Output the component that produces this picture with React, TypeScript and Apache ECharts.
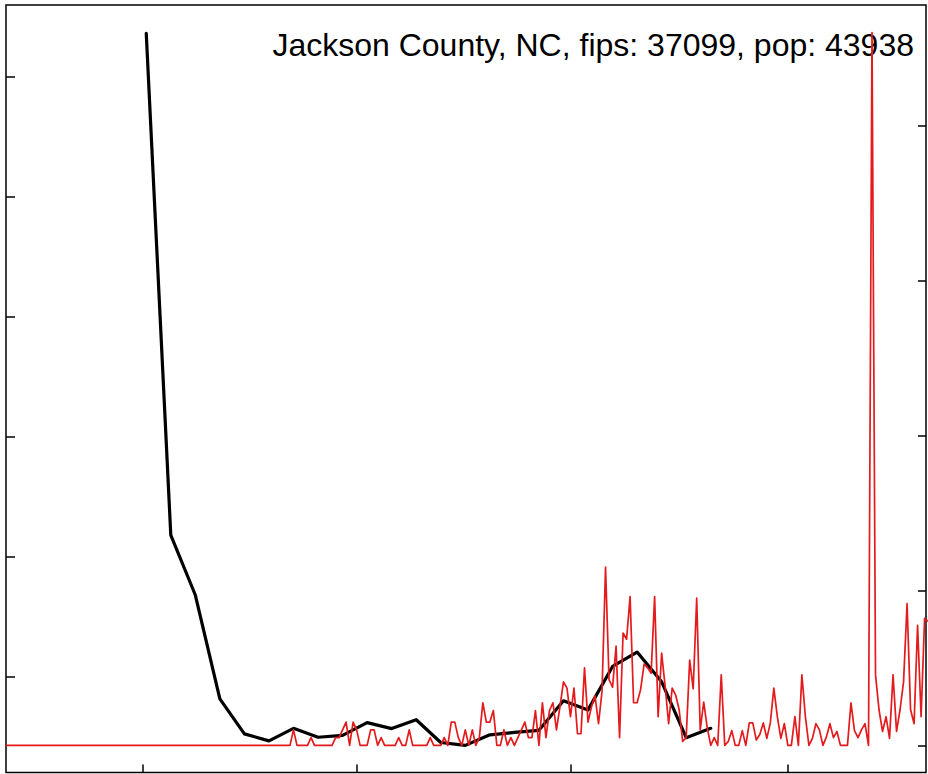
import React, { useEffect, useRef } from "react";
import * as echarts from "echarts";

const titleText = "Jackson County, NC, fips: 37099, pop: 43938";

// x in days since 2020-01-22; ticks at Mar 1, May 1, Jul 1, Sep 1
const xTickDays = [39, 100, 161, 223];
const xMaxDay = 262.4;
const leftTicks = [5, 10, 15, 20, 25, 30];
const rightTicks = [0, 20, 40, 60, 80];

// weekly series (left axis)
const blackDays = [40, 47, 54, 61, 68, 75, 82, 89, 96, 103, 110, 117, 124, 131, 138, 145, 152, 159, 166, 173, 180, 187, 194, 201];
const blackValues = [31.82, 10.9, 8.4, 4.07, 2.61, 2.32, 2.84, 2.47, 2.55, 3.08, 2.83, 3.2, 2.25, 2.13, 2.57, 2.67, 2.76, 3.99, 3.61, 5.42, 6.02, 4.78, 2.45, 2.84];

// daily series (right axis), day 0 = 2020-01-22
const redValues = [
  0, 0, 0, 0, 0, 0, 0, 0, 0, 0, 0, 0, 0, 0, 0, 0, 0, 0, 0, 0,
  0, 0, 0, 0, 0, 0, 0, 0, 0, 0, 0, 0, 0, 0, 0, 0, 0, 0, 0, 0,
  0, 0, 0, 0, 0, 0, 0, 0, 0, 0, 0, 0, 0, 0, 0, 0, 0, 0, 0, 0,
  0, 0, 0, 0, 0, 0, 0, 0, 0, 0, 0, 0, 0, 0, 0, 0, 0, 0, 0, 0,
  0, 0, 2, 0, 0, 0, 0, 1, 0, 0, 0, 0, 0, 0, 1, 1, 2, 3, 0, 3,
  2, 0, 0, 0, 2, 2, 0, 1, 0, 0, 0, 0, 1, 0, 0, 2, 0, 0, 0, 0,
  0, 1, 0, 0, 0, 1, 0, 3, 3, 1, 0, 2, 0, 2, 0, 1, 5.5, 3, 3, 4.5,
  0, 0, 2, 0, 1, 0, 1, 2, 3, 1, 1, 4.5, 0, 5.5, 1, 4.5, 5.5, 2, 5, 8.2,
  7.4, 3.7, 7.4, 1.5, 1.5, 10, 3, 5, 6.4, 2.8, 7, 23, 8.5, 7.5, 12.8, 1, 14.5, 13.7, 19.2, 5.5,
  5.5, 7.2, 10.5, 10, 9.3, 19.2, 3.7, 11.9, 7.6, 2.8, 7.4, 6.5, 4.6, 0.5, 1, 11, 7.3, 19, 2, 5.6,
  2.3, 0, 1, 0, 9.1, 0, 0.5, 1.9, 0, 0, 1.9, 0, 2.9, 2.9, 0.7, 1.4, 2.9, 0.9, 2.9, 7.4,
  3.7, 0.9, 2.8, 0, 0, 3.7, 0, 9.1, 3.7, 0, 0.9, 2.8, 2, 0, 1.1, 2.8, 1, 1.8, 0, 0,
  0, 5.5, 1.9, 1, 2, 2.8, 0, 92, 9.1, 4.6, 1.8, 3.7, 0.9, 9.1, 1.8, 4.6, 8.2, 18.3, 4.6, 2.8,
  15.5, 3.7, 16.4, 16,
];

export default function App() {
  const ref = useRef<HTMLDivElement>(null);
  useEffect(() => {
    const chart = echarts.init(ref.current as HTMLDivElement, null, { renderer: "svg" });
    const tickStyle = { color: "#000", width: 1.5 };
    chart.setOption({
      animation: false,
      backgroundColor: "#fff",
      grid: {
        left: 6,
        right: 2,
        top: 5,
        bottom: 1.5,
        show: true,
        borderColor: "#000",
        borderWidth: 1.5,
        backgroundColor: "transparent",
      },
      xAxis: {
        type: "value",
        position: "bottom",
        min: 0,
        max: xMaxDay,
        axisLine: { show: false, onZero: false },
        splitLine: { show: false },
        axisLabel: { show: false },
        axisTick: { show: true, inside: true, length: 8, customValues: xTickDays, lineStyle: tickStyle },
      },
      yAxis: [
        {
          type: "value",
          position: "left",
          min: 1,
          max: 33,
          axisLine: { show: false, onZero: false },
          splitLine: { show: false },
          axisLabel: { show: false },
          axisTick: { show: true, inside: true, length: 9, customValues: leftTicks, lineStyle: tickStyle },
        },
        {
          type: "value",
          position: "right",
          min: -3.5,
          max: 95.56,
          axisLine: { show: false, onZero: false },
          splitLine: { show: false },
          axisLabel: { show: false },
          axisTick: { show: true, inside: true, length: 8, customValues: rightTicks, lineStyle: tickStyle },
        },
      ],
      graphic: [
        {
          type: "text",
          z: 0,
          x: 914,
          y: 45,
          style: {
            text: titleText,
            textAlign: "right",
            textVerticalAlign: "middle",
            fontSize: 32,
            fontFamily: "'Liberation Sans', Arial, sans-serif",
            fill: "#000",
          },
        },
      ],
      series: [
        {
          type: "line",
          yAxisIndex: 0,
          data: blackDays.map((d, i) => [d, blackValues[i]]),
          symbol: "none",
          z: 3,
          lineStyle: { color: "#000", width: 3.2, join: "round", cap: "round" },
        },
        {
          type: "line",
          yAxisIndex: 1,
          data: redValues.map((v, i) => [i, v]),
          symbol: "none",
          z: 4,
          lineStyle: { color: "#e41a1c", width: 1.7, join: "round" },
        },
      ],
    });
    return () => chart.dispose();
  }, []);
  return (
    <div
      ref={ref}
      style={{ position: "fixed", left: 0, top: 0, width: 928, height: 774, background: "#fff" }}
    />
  );
}
